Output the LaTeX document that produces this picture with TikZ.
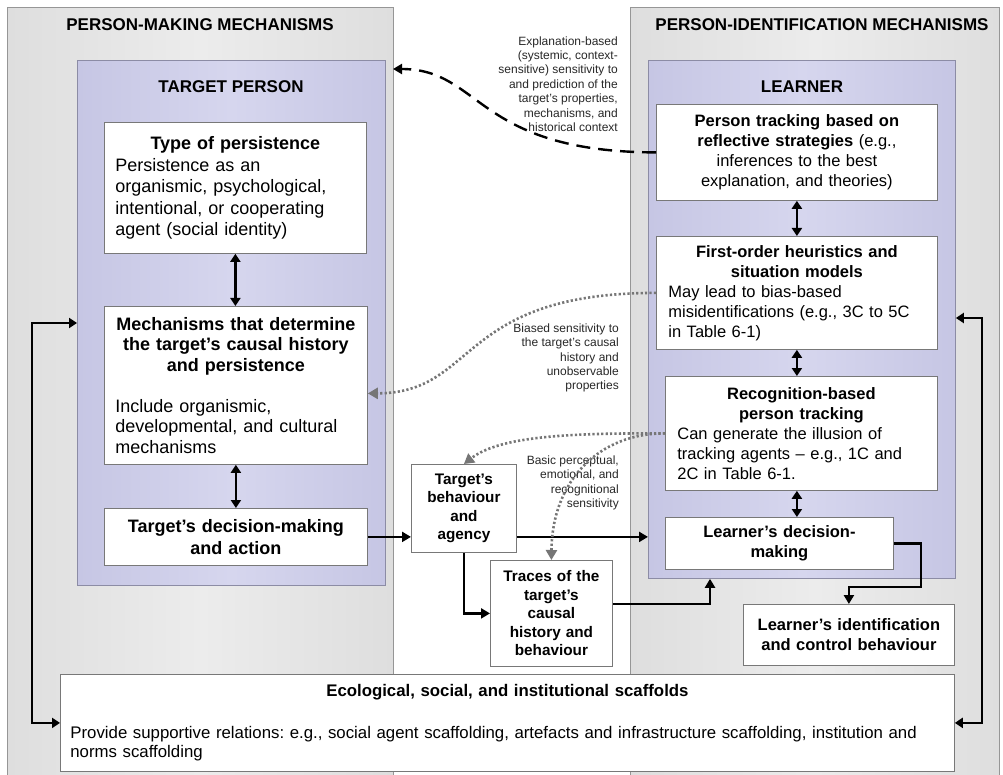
\documentclass[tikz,border=0pt]{standalone}
\usepackage{fontspec}
\setmainfont{Liberation Sans}
\usetikzlibrary{arrows.meta,calc}
\frenchspacing

\definecolor{panelgrey}{RGB}{222,222,222}
\definecolor{panelgreylt}{RGB}{236,236,236}
\definecolor{panelline}{RGB}{150,150,150}
\definecolor{lav}{RGB}{198,198,228}
\definecolor{lavlt}{RGB}{214,214,238}
\definecolor{lavline}{RGB}{140,140,165}
\definecolor{boxline}{RGB}{120,120,120}
\definecolor{dotgrey}{RGB}{118,118,118}
\definecolor{labelgrey}{RGB}{40,40,40}

\begin{document}
\begin{tikzpicture}[x=1pt,y=-1pt,
  panel/.style={draw=panelline, line width=0.8pt, left color=panelgrey, right color=panelgrey,
    middle color=panelgreylt, anchor=north west, inner sep=0pt},
  lavpanel/.style={draw=lavline, line width=0.8pt, left color=lav, right color=lav,
    middle color=lavlt, anchor=north west, inner sep=0pt},
  box/.style={draw=boxline, line width=0.8pt, fill=white, anchor=north west,
    inner ysep=0pt, inner xsep=11pt, execute at begin node={\setlength{\parindent}{0pt}\frenchspacing}},
  head/.style={font=\bfseries\fontsize{17}{20}\selectfont, inner sep=0pt},
  big/.style={font=\fontsize{18}{21.5}\selectfont},
  mid/.style={font=\fontsize{16.5}{20}\selectfont},
  small/.style={font=\fontsize{15.3}{18.5}\selectfont},
  lbl/.style={font=\fontsize{12}{14.4}\selectfont, text=labelgrey, align=right, inner sep=0pt},
  arr/.style={line width=2.4pt, -{Triangle[length=9pt,width=10pt]}},
  darr/.style={line width=2.4pt, {Triangle[length=8pt,width=10pt]}-{Triangle[length=8pt,width=10pt]}},
  dsh/.style={line width=2.4pt, dash pattern=on 14pt off 8pt, -{Triangle[length=9pt,width=10pt]}},
  dots/.style={draw=dotgrey, line width=2.6pt, dash pattern=on 2.2pt off 2.2pt,
    -{Triangle[length=10pt,width=11pt,fill=dotgrey]}}
]
\useasboundingbox (0,0) rectangle (1003,775);
\fill[white] (0,0) rectangle (1003,775);

% outer mechanism panels
\node[panel, minimum width=386pt, minimum height=775pt] (pm) at (7,7) {};
\node[panel, minimum width=369pt, minimum height=775pt] (pi) at (630,7) {};
\node[head] (hm) at (200,25) {PERSON-MAKING MECHANISMS};
\node[head] (hi) at (822,25) {PERSON-IDENTIFICATION MECHANISMS};

% target person and learner panels
\node[lavpanel, minimum width=308pt, minimum height=525pt] (tp) at (77,60) {};
\node[lavpanel, minimum width=307pt, minimum height=518pt] (ln) at (648,60) {};
\node[head] (htp) at (231,87) {TARGET PERSON};
\node[head] (hln) at (802,87) {LEARNER};

% target person boxes
\node[box, big, minimum width=262pt, minimum height=131pt, text width=240pt] (type) at (104,122)
  {{\centering\bfseries Type of persistence\par}\raggedright Persistence as an\\ organismic, psychological,\\ intentional, or cooperating\\ agent (social identity)};
\node[box, big, font=\fontsize{18}{20.5}\selectfont, minimum width=263pt, minimum height=158pt, text width=241pt] (mech) at (104,306)
  {{\centering\bfseries Mechanisms that determine\\ the target’s causal history\\ and persistence\par}\vspace{20.5pt}\raggedright Include organismic,\\ developmental, and cultural\\ mechanisms};
\node[box, big, minimum width=263pt, minimum height=57pt, text width=241pt] (tdec) at (104,508)
  {{\centering\bfseries Target’s decision-making\\ and action\par}};

% boxes between the panels
\node[box, small, inner xsep=5pt, minimum width=105pt, minimum height=88pt, text width=95pt] (tbeh) at (411,464)
  {{\centering\bfseries Target’s\\ behaviour\\ and\\ agency\par}};
\node[box, small, inner xsep=5pt, minimum width=122pt, minimum height=106pt, text width=112pt] (trace) at (490,560)
  {{\centering\bfseries Traces of the\\ target’s\\ causal\\ history and\\ behaviour\par}};

% learner boxes
\node[box, mid, inner xsep=12pt, minimum width=281pt, minimum height=96pt, text width=257pt] (ptrack) at (656,104)
  {{\centering\textbf{Person tracking based on}\\ \textbf{reflective strategies} (e.g.,\\ inferences to the best\\ explanation, and theories)\par}};
\node[box, mid, inner xsep=12pt, minimum width=281pt, minimum height=113pt, text width=257pt] (fo) at (656,236)
  {{\centering\bfseries First-order heuristics and\\ situation models\par}\raggedright May lead to bias-based\\ misidentifications (e.g., 3C to 5C\\ in Table 6-1)};
\node[box, mid, inner xsep=12pt, minimum width=272pt, minimum height=114pt, text width=248pt] (rec) at (665,376)
  {{\centering\bfseries Recognition-based\\ person tracking\par}\raggedright Can generate the illusion of\\ tracking agents – e.g., 1C and\\ 2C in Table 6-1.};
\node[box, mid, inner xsep=9pt, minimum width=228pt, minimum height=52pt, text width=210pt] (ldec) at (665,517)
  {{\centering\bfseries Learner’s decision-\\ making\par}};
\node[box, mid, inner xsep=5pt, minimum width=211pt, minimum height=61pt, text width=201pt] (lid) at (743,604)
  {{\centering\bfseries Learner’s identification\\ and control behaviour\par}};

% scaffolds box
\node[box, font=\fontsize{16.8}{19.5}\selectfont, inner xsep=10pt, minimum width=894pt, minimum height=97pt, text width=874pt] (eco) at (60,674)
  {{\centering\bfseries Ecological, social, and institutional scaffolds\par}\vspace{22pt}\raggedright Provide supportive relations: e.g., social agent scaffolding, artefacts and infrastructure scaffolding, institution and\\ norms scaffolding};

% sensitivity labels
\node[lbl, anchor=east] (l1) at (618,84) {Explanation-based\\ (systemic, context-\\ sensitive) sensitivity to\\ and prediction of the\\ target’s properties,\\ mechanisms, and\\ historical context};
\node[lbl, anchor=east] (l2) at (619,358) {Biased sensitivity to\\ the target’s causal\\ history and\\ unobservable\\ properties};
\node[lbl, anchor=east] (l3) at (619,483) {Basic perceptual,\\ emotional, and\\ recognitional\\ sensitivity};

% solid connectors
\draw[darr] (type.south) -- (type.south |- mech.north);
\draw[darr] (mech.south) -- (mech.south |- tdec.north);
\draw[arr] (tdec.east) -- (tdec.east -| tbeh.west);
\draw[arr] (tbeh.east |- tdec.east) -- (tdec.east -| ln.west);
\draw[arr] (tbeh.south) |- (trace.west);
\coordinate (tx) at (710,604);
\draw[arr] (trace.east |- tx) -| (ln.south -| tx);
\draw[darr] (ptrack.south) -- (ptrack.south |- fo.north);
\draw[darr] (fo.south) -- (fo.south |- rec.north);
\draw[darr] (fo.south |- rec.south) -- (fo.south |- ldec.north);
\coordinate (lc) at (921,587);
\draw[arr] (ldec.east) -| (lc) -| (lid.north);
\coordinate (ll) at (32,323);
\draw[darr] (ll -| tp.west) -- (ll) |- (eco.west);
\coordinate (rl) at (982,318);
\draw[darr] (rl -| ln.east) -- (rl) |- (eco.east);

% explanation-based link
\coordinate (dtip) at (393,69);
\draw[dsh] (ptrack.west) .. controls (475,152) and (482,69) .. (dtip);

% biased and basic sensitivity links
\draw[dots] (fo.west) .. controls (456,293) and (478,393) .. ([yshift=-8pt]mech.east);
\draw[dots] (rec.west) .. controls (570,433) and (500,436) .. (tbeh.north);
\draw[dots] (rec.west) .. controls (600,433) and (552,480) .. (trace.north);
\end{tikzpicture}
\end{document}
